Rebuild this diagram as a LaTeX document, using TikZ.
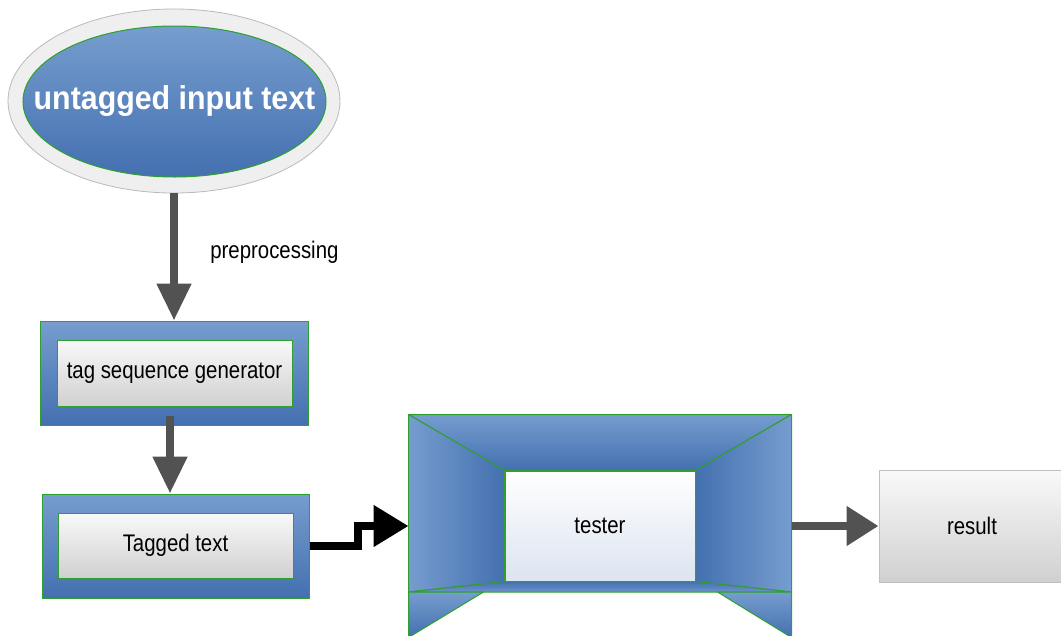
\documentclass[tikz,border=0pt]{standalone}
\usepackage{fontspec}
\usepackage{tikz}
\usetikzlibrary{shapes.geometric,arrows.meta}
\newfontfamily\diagfont[FakeStretch=0.85]{Liberation Sans}
\newfontfamily\titlefont[FakeStretch=0.92]{Liberation Sans}
\definecolor{boxgreen}{RGB}{46,160,46}
\definecolor{bluetop}{RGB}{118,157,206}
\definecolor{bluebot}{RGB}{68,112,176}
\definecolor{greytop}{RGB}{249,249,249}
\definecolor{greybot}{RGB}{208,208,208}
\definecolor{arrowgrey}{RGB}{82,82,82}
\definecolor{ringgrey}{RGB}{239,239,239}
\definecolor{testerbot}{RGB}{220,228,240}

\begin{document}
\begin{tikzpicture}[x=1pt, y=-1pt,
every node/.style={font=\diagfont\fontsize{24}{28}\selectfont, text=black},
ring/.style={ellipse, draw=gray!55, fill=ringgrey, line width=0.8pt, inner sep=0pt},
blueoval/.style={ellipse, draw=boxgreen, line width=1pt, top color=bluetop, bottom color=bluebot, inner sep=0pt},
bluebox/.style={rectangle, draw=boxgreen, line width=1pt, top color=bluetop, bottom color=bluebot, inner sep=0pt},
greybox/.style={rectangle, draw=boxgreen, line width=1pt, top color=greytop, bottom color=greybot, inner sep=0pt},
panel/.style={draw=boxgreen, line width=1pt, line join=round},
flowarrow/.style={draw=arrowgrey, line width=8pt, -{Triangle[length=37pt,width=33pt]}},
steparrow/.style={draw=black, line width=8pt, line join=miter, -{Triangle[length=35pt,width=40pt]}},
]
\useasboundingbox (0,0) rectangle (1061,635);
\clip (0,0) rectangle (1061,635);

\node[ring, minimum width=332pt, minimum height=184pt] (ring) at (174,101) {};
\node[blueoval, minimum width=303pt, minimum height=151pt] (input) at (174.5,101.5) {};
\node[text=white, font=\titlefont\bfseries\fontsize{33}{36}\selectfont] (inputtext) at (input.center) {untagged input text};

\node[bluebox, minimum width=268pt, minimum height=104pt] (genframe) at (174,373) {};
\node[greybox, minimum width=235pt, minimum height=66pt] (gen) at (174.5,373) {tag sequence generator};

\node[bluebox, minimum width=267pt, minimum height=104pt] (tagframe) at (175.5,546) {};
\node[greybox, minimum width=235pt, minimum height=65pt] (tagged) at (175.5,545.5) {Tagged text};

\node[rectangle, draw=boxgreen, line width=1pt, minimum width=382pt, minimum height=222pt, inner sep=0pt] (frame) at (600,526) {};
\node[rectangle, draw=boxgreen, line width=1pt, top color=white, bottom color=testerbot,
  minimum width=190pt, minimum height=110pt, inner sep=0pt] (tester) at (600,526) {tester};
\coordinate (lowleft) at ([yshift=-66pt]frame.west);
\coordinate (lowright) at ([yshift=-66pt]frame.east);

\path[panel, top color=bluetop, bottom color=bluebot] (frame.north west) -- (frame.north east) -- (tester.north east) -- (tester.north west) -- cycle;
\path[panel, left color=bluetop, right color=bluebot] (frame.north west) -- (tester.north west) -- (tester.south west) -- (lowleft) -- cycle;
\path[panel, left color=bluebot, right color=bluetop] (frame.north east) -- (tester.north east) -- (tester.south east) -- (lowright) -- cycle;
\path[panel, top color=bluebot, bottom color=bluetop!80!bluebot] (tester.south west) -- (tester.south east) -- (lowright) -- (lowleft) -- cycle;
\path[panel, top color=bluetop, bottom color=bluebot] (lowleft) -- ++(75,0) -- (frame.south west) -- cycle;
\path[panel, top color=bluetop, bottom color=bluebot] (lowright) -- ++(-74,0) -- (frame.south east) -- cycle;

\node[rectangle, draw=gray!50, line width=1pt, top color=greytop, bottom color=greybot,
  minimum width=186pt, minimum height=112pt, inner sep=0pt] (result) at (972,526) {result};

\draw[flowarrow] (ring.south) -- node[anchor=west, xshift=29pt, pos=0.46] {preprocessing} (genframe.north);
\draw[flowarrow] ([xshift=-4pt,yshift=10pt]genframe.south) -- ([xshift=-4pt]genframe.south |- tagframe.north);
\draw[steparrow] (tagframe.east) -- ([xshift=48pt]tagframe.east) |- (frame.west);
\draw[flowarrow, -{Triangle[length=32pt,width=38pt]}] (frame.east) -- (result.west);

\end{tikzpicture}
\end{document}
